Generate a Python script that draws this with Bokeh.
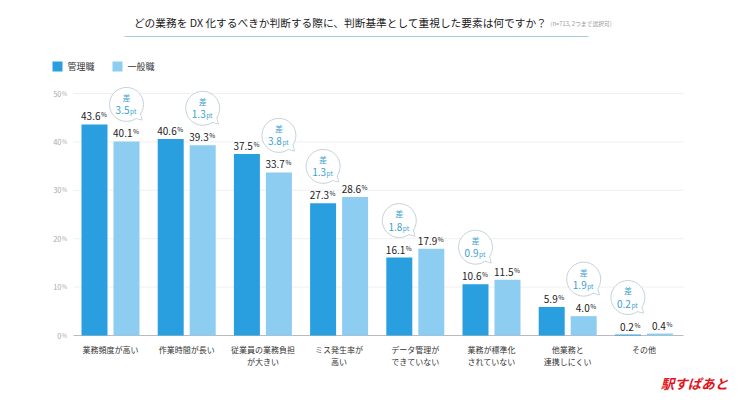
import math
from bokeh.plotting import figure
from bokeh.models import Range1d
from bokeh.core.properties import value
from bokeh.embed import file_html
from bokeh.resources import INLINE

# ---- data ----
categories = ["業務頻度が高い", "作業時間が長い", "従業員の業務負担\nが大きい", "ミス発生率が\n高い",
              "データ管理が\nできていない", "業務が標準化\nされていない", "他業務と\n連携しにくい", "その他"]
manager = [43.6, 40.6, 37.5, 27.3, 16.1, 10.6, 5.9, 0.2]
general = [40.1, 39.3, 33.7, 28.6, 17.9, 11.5, 4.0, 0.4]
series_names = ["管理職", "一般職"]
y_ticks = [0, 10, 20, 30, 40, 50]
title_text = "どの業務を DX 化するべきか判断する際に、判断基準として重視した要素は何ですか？"
subtitle_text = "(n=713, 2つまで選択可)"
logo_text = "駅すぱあと"

# ---- styling ----
C_MGR = "#2A9FE0"
C_GEN = "#8DCDF1"
FONT = value("Noto Sans CJK JP")
W, H = 742, 395
XS = 76.2    # px per category
YS = 4.84    # px per percent
X0 = 110     # page x of first group centre
Y0 = 335     # page y of 0%

def px(xp):
    return (xp - X0) / XS

def py(yp):
    return (Y0 - yp) / YS

p = figure(width=W, height=H, output_backend="svg", toolbar_location=None,
           x_range=Range1d(px(0), px(W)), y_range=Range1d(py(H), py(0)),
           min_border=0, outline_line_color=None)
p.axis.visible = False
p.grid.visible = False
p.background_fill_color = "white"

# title
p.text(x=[px(340)], y=[py(22)], text=[title_text], text_font=FONT, text_font_size="10.7px",
       text_color="#1A1A1A", text_align="center", text_baseline="middle")
p.text(x=[px(550)], y=[py(23)], text=[subtitle_text], text_font=FONT, text_font_size="5.8px",
       text_color="#999999", text_align="left", text_baseline="middle")
p.segment(x0=[px(124)], x1=[px(588)], y0=[py(36)], y1=[py(36)], line_color="#A9C9DD", line_width=1)

# legend
p.rect(x=[px(57), px(117)], y=[py(66), py(66)], width=10 / XS, height=10 / YS,
       fill_color=[C_MGR, C_GEN], line_color=None)
p.text(x=[px(67), px(127)], y=[py(66), py(66)], text=series_names, text_font=FONT,
       text_font_size="9px", text_color="#333333", text_align="left", text_baseline="middle")

# grid
grid_y = [t for t in y_ticks if t > 0]
p.segment(x0=[px(73)] * len(grid_y), x1=[px(683)] * len(grid_y), y0=grid_y, y1=grid_y,
          line_color="#F0F0F0", line_width=1)
p.segment(x0=[px(73)], x1=[px(683)], y0=[0], y1=[0], line_color="#BBBBBB", line_width=1)
p.text(x=[px(61)] * len(y_ticks), y=y_ticks, text=[str(t) for t in y_ticks], text_font=FONT,
       text_font_size="7.5px", text_color="#AAAAAA", text_align="right", text_baseline="middle")
p.text(x=[px(61.5)] * len(y_ticks), y=y_ticks, text=["%"] * len(y_ticks), text_font=FONT,
       text_font_size="5.5px", text_color="#AAAAAA", text_align="left", text_baseline="middle")

# bars
idx = list(range(len(categories)))
off = 16 / XS
bw = 26 / XS
xm = [i - off for i in idx]
xg = [i + off for i in idx]
p.vbar(x=xm, top=manager, bottom=0, width=bw, fill_color=C_MGR, line_color=None)
p.vbar(x=xg, top=general, bottom=0, width=bw, fill_color=C_GEN, line_color=None)

# value labels
for xs_, vals in ((xm, manager), (xg, general)):
    p.text(x=xs_, y=vals, text=[f"{v:.1f}" for v in vals], text_font=FONT, text_font_size="10px",
           text_color="#222222", text_align="right", text_baseline="bottom", x_offset=6, y_offset=-4)
    p.text(x=xs_, y=vals, text=["%"] * len(vals), text_font=FONT, text_font_size="6.5px",
           text_color="#222222", text_align="left", text_baseline="bottom", x_offset=6.5, y_offset=-5)

# category labels
p.text(x=idx, y=[py(343)] * len(idx), text=categories, text_font=FONT, text_font_size="8px",
       text_color="#333333", text_align="center", text_baseline="top", text_line_height=1.1)

# difference bubbles above the lower bar
bx, by, bd = [], [], []
for i in idx:
    a, b = manager[i], general[i]
    if a <= b:
        bx.append(xm[i]); by.append(a + 37 / YS)
    else:
        bx.append(xg[i]); by.append(b + 37 / YS)
    bd.append(abs(a - b))
tx = [x + 12 / XS for x in bx]
ty = [y - 12 / YS for y in by]
p.scatter(x=tx, y=ty, marker="triangle", size=9, angle=-3 * math.pi / 4,
          fill_color="white", line_color="#C5D3DC", line_width=1)
p.scatter(x=bx, y=by, marker="circle", size=34, fill_color="white", line_color="#C5D3DC", line_width=1)
p.scatter(x=tx, y=ty, marker="triangle", size=7, angle=-3 * math.pi / 4,
          fill_color="white", line_color=None)
p.text(x=bx, y=by, text=["差"] * len(bx), text_font=FONT, text_font_size="8px",
       text_color="#3A9FCF", text_align="center", text_baseline="middle", y_offset=-7)
p.text(x=bx, y=by, text=[f"{d:.1f}" for d in bd], text_font=FONT, text_font_size="10px",
       text_color="#3A9FCF", text_align="right", text_baseline="middle", x_offset=3, y_offset=6)
p.text(x=bx, y=by, text=["pt"] * len(bx), text_font=FONT, text_font_size="6.5px",
       text_color="#3A9FCF", text_align="left", text_baseline="middle", x_offset=3.5, y_offset=7)

# logo
p.text(x=[px(694)], y=[py(382)], text=[logo_text], text_font=FONT, text_font_size="13.5px",
       text_font_style="bold italic", text_color="#E0141E", text_align="center", text_baseline="middle")

open("out.html", "w").write(file_html(p, INLINE))
